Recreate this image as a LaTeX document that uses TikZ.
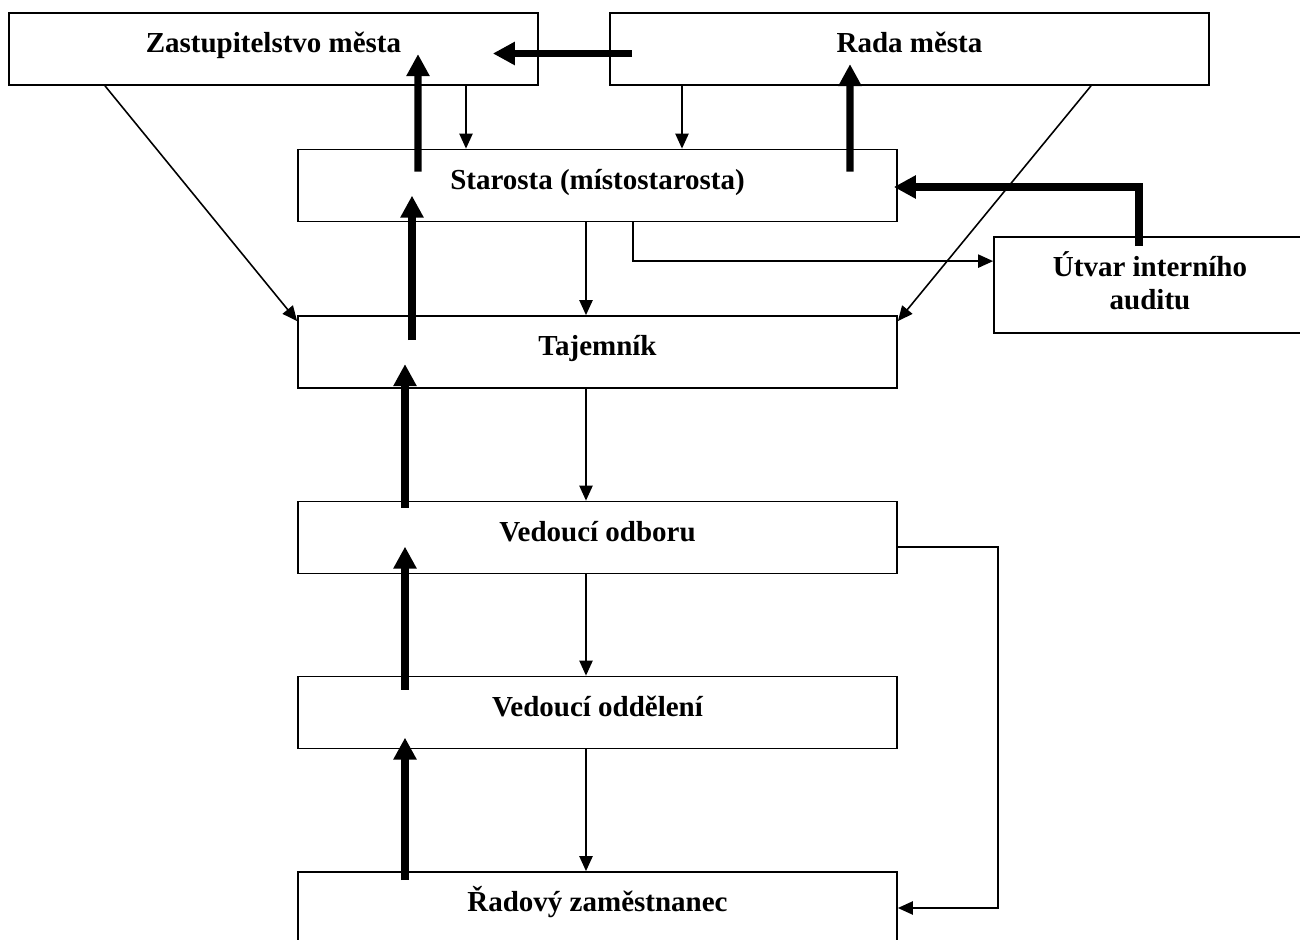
\documentclass[tikz,border=0pt]{standalone}
\usepackage{fontspec}
\setmainfont{Liberation Serif}
\usetikzlibrary{arrows.meta,calc}
\tikzset{
  basebox/.style={draw,rectangle,line width=1pt,inner sep=0pt,font=\fontsize{16.5}{18.7}\selectfont\bfseries},
  orgbox/.style={basebox,minimum width=11.98cm,minimum height=1.44cm,text height=11.5pt,text depth=7pt},
  auditbox/.style={basebox,minimum width=6.24cm,minimum height=1.92cm,align=center,text depth=5.5pt},
  thn/.style={-{Triangle[length=8.5pt,width=7.5pt]},line width=0.9pt},
  thk/.style={-{Triangle[length=12.5pt,width=12.5pt]},line width=4pt}
}
\begin{document}
\begin{tikzpicture}
  \useasboundingbox (0,0) rectangle (26,-18.8);
  % Boxes
  \node[orgbox, minimum width=10.58cm] (zast) at (5.47,-0.98) {Zastupitelstvo města};
  \node[orgbox] (rada) at (18.19,-0.98) {Rada města};
  \node[orgbox] (starosta) at (11.95,-3.71) {Starosta (místostarosta)};
  \node[auditbox] (utvar) at (23.0,-5.70) {Útvar interního\\auditu};
  \node[orgbox] (tajemnik) at (11.95,-7.04) {Tajemník};
  \node[orgbox] (vodbor) at (11.95,-10.75) {Vedoucí odboru};
  \node[orgbox] (voddel) at (11.95,-14.25) {Vedoucí oddělení};
  \node[orgbox] (radovy) at (11.95,-18.16) {Řadový zaměstnanec};

  % Thin arrows (downwards)
  \draw[thn] ($(zast.south)+(3.85,0)$) coordinate (z1) -- (z1 |- starosta.north);
  \draw[thn] ($(rada.south)+(-4.55,0)$) coordinate (r1) -- (r1 |- starosta.north);
  \draw[thn] ($(zast.south)+(-3.37,0)$) -- ($(tajemnik.north west)+(0,-0.12)$);
  \draw[thn] ($(rada.south)+(3.63,0)$) -- ($(tajemnik.north east)+(0,-0.12)$);
  \draw[thn] ($(starosta.south)+(-0.23,0)$) coordinate (s1) -- (s1 |- tajemnik.north);
  \draw[thn] ($(starosta.south)+(0.71,0)$) |- ($(utvar.north west)+(0,-0.5)$);
  \draw[thn] ($(tajemnik.south)+(-0.23,0)$) coordinate (t1) -- (t1 |- vodbor.north);
  \draw[thn] ($(vodbor.south)+(-0.23,0)$) coordinate (o1) -- (o1 |- voddel.north);
  \draw[thn] ($(voddel.south)+(-0.23,0)$) coordinate (d1) -- (d1 |- radovy.north);
  \draw[thn] ($(vodbor.east)+(0,-0.19)$) -- ++(2.0,0) |- (radovy.east);

  % Thick arrows (upwards)
  \draw[thk] ($(starosta.north)+(-3.59,-0.46)$) -- ($(zast.north)+(2.89,-0.84)$);
  \draw[thk] ($(tajemnik.north)+(-3.71,-0.50)$) -- ($(starosta.north)+(-3.71,-0.94)$);
  \draw[thk] ($(vodbor.north)+(-3.85,-0.14)$) -- ($(tajemnik.north)+(-3.85,-0.98)$);
  \draw[thk] ($(voddel.north)+(-3.85,-0.28)$) -- ($(vodbor.north)+(-3.85,-0.92)$);
  \draw[thk] ($(radovy.north)+(-3.85,-0.18)$) -- ($(voddel.north)+(-3.85,-1.24)$);
  \draw[thk] ($(starosta.north)+(5.05,-0.46)$) -- ($(rada.north)+(-1.19,-1.04)$);
  \draw[thk] ($(rada.west)+(0.46,-0.09)$) -- ($(zast.east)+(-0.92,-0.09)$);
  \draw[thk] ($(utvar.north)+(-0.22,-0.20)$) |- ($(starosta.east)+(-0.08,-0.03)$);
\end{tikzpicture}
\end{document}
